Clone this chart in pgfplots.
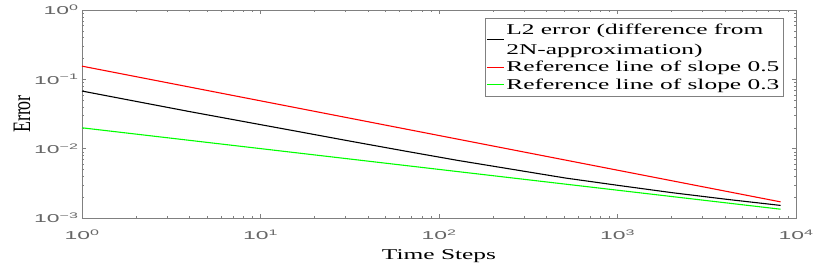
\documentclass[border=0pt]{standalone}
\usepackage{pgfplots}
\pgfplotsset{compat=1.18}
\usepackage{fontspec}
\setmainfont{Liberation Serif}[FakeStretch=1.7]
\newfontfamily\tickfont{Liberation Sans}[FakeStretch=2.0]
\newfontfamily\errfont{Liberation Serif}
\begin{document}
\begin{tikzpicture}
\begin{axis}[
  name=ax,
  xmode=log, ymode=log,
  scale only axis,
  width=714bp, height=208bp,
  xmin=1, xmax=10000, ymin=0.001, ymax=1,
  axis line style={gray},
  every tick/.style={gray},
  major tick length=4bp, minor tick length=2.5bp,
  tick align=inside,
  xtick={1,10,100,1000,10000},
  xticklabels={10\textsuperscript{0},10\textsuperscript{1},10\textsuperscript{2},10\textsuperscript{3},10\textsuperscript{4}},
  ytick={0.001,0.01,0.1,1},
  yticklabels={10\textsuperscript{−3},10\textsuperscript{−2},10\textsuperscript{−1},10\textsuperscript{0}},
  ticklabel style={font=\tickfont\fontsize{11.5}{11.5}\selectfont, text=gray!80!black},
  xticklabel style={yshift=-8bp},
  xlabel={Time Steps},
  ylabel={Error},
  every axis x label/.style={at={(axis description cs:0.5,-0.183)}, anchor=center},
  every axis y label/.style={at={(axis description cs:-0.084,0.5)}, rotate=90, anchor=center},
  xlabel style={font=\fontsize{15}{15}\selectfont},
  ylabel style={font=\errfont\fontsize{18}{18}\selectfont, yscale=1.4},
  legend style={at={(1,1)}, anchor=north east, xshift=-13bp, yshift=-8bp,
    draw=gray, font=\fontsize{15}{20}\selectfont, inner xsep=1.5bp, inner ysep=3.5bp,
    nodes={align=left}, row sep=1.5bp},
  legend cell align=left,
]
\addplot[black, line width=1.1bp] coordinates {
(1,0.0678) (2,0.0482) (4,0.0343) (8,0.0247) (16,0.0178) (32,0.0128) (64,0.00927)
(128,0.00676) (256,0.00505) (512,0.00377) (1024,0.00294) (2048,0.00231) (4096,0.00186) (8192,0.00152)};
\addlegendentry{L2 error (difference from\\2N-approximation)}
\addplot[red, line width=1.1bp] coordinates {(1,0.155) (8192,0.00171)};
\addlegendentry{Reference line of slope 0.5}
\addplot[green, line width=1.1bp] coordinates {(1,0.0200) (8192,0.00134)};
\addlegendentry{Reference line of slope 0.3}
\end{axis}
\pgfresetboundingbox
\useasboundingbox ([shift={(-82bp,-52bp)}]ax.south west) rectangle ([shift={(18bp,10bp)}]ax.north east);
\end{tikzpicture}
\end{document}
